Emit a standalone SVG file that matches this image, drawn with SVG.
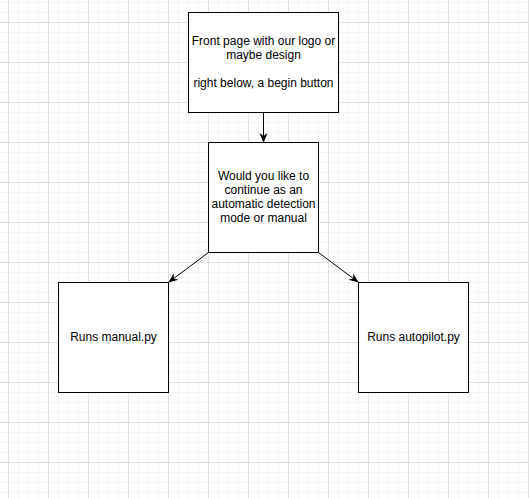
<svg xmlns="http://www.w3.org/2000/svg" width="529" height="498" viewBox="0 0 529 498">
<defs>
<pattern id="grid" x="8" y="22" width="40" height="40" patternUnits="userSpaceOnUse">
<path d="M10.5 0V40M20.5 0V40M30.5 0V40M0 10.5H40M0 20.5H40M0 30.5H40" stroke="#f4f4f4" stroke-width="1" fill="none"/>
<path d="M0.5 0V40M0 0.5H40" stroke="#e0e0e0" stroke-width="1" fill="none"/>
</pattern>
<marker id="arr" viewBox="0 0 10 10" refX="9" refY="5" markerWidth="10" markerHeight="10" markerUnits="userSpaceOnUse" orient="auto">
<path d="M0 1L10 5L0 9L3 5Z" fill="#000"/>
</marker>
</defs>
<style>
.box{fill:#fff;stroke:#000;stroke-width:1}
.t{font-family:"Liberation Sans",Arial,sans-serif;font-size:12px;fill:#000;text-anchor:middle}
.c{stroke:#000;stroke-width:1;fill:none;marker-end:url(#arr)}
</style>
<rect width="529" height="498" fill="#fff"/>
<rect width="529" height="498" fill="url(#grid)"/>
<g id="connectors">
<path class="c" d="M263.5 112.5V142"/>
<path class="c" d="M208.5 252.5L169 282"/>
<path class="c" d="M318.5 252.5L358 282"/>
</g>
<g id="front">
<rect class="box" x="188.5" y="12.5" width="150" height="100"/>
<text class="t" x="263.5" y="45">Front page with our logo or</text>
<text class="t" x="263.5" y="59">maybe design</text>
<text class="t" x="263.5" y="87">right below, a begin button</text>
</g>
<g id="choice">
<rect class="box" x="208.5" y="142.5" width="110" height="110"/>
<text class="t" x="263.5" y="180">Would you like to</text>
<text class="t" x="263.5" y="194">continue as an</text>
<text class="t" x="263.5" y="208">automatic detection</text>
<text class="t" x="263.5" y="222">mode or manual</text>
</g>
<g id="manual">
<rect class="box" x="58.5" y="282.5" width="110" height="110"/>
<text class="t" x="113.5" y="341">Runs manual.py</text>
</g>
<g id="autopilot">
<rect class="box" x="358.5" y="282.5" width="110" height="110"/>
<text class="t" x="413.5" y="341">Runs autopilot.py</text>
</g>
</svg>
